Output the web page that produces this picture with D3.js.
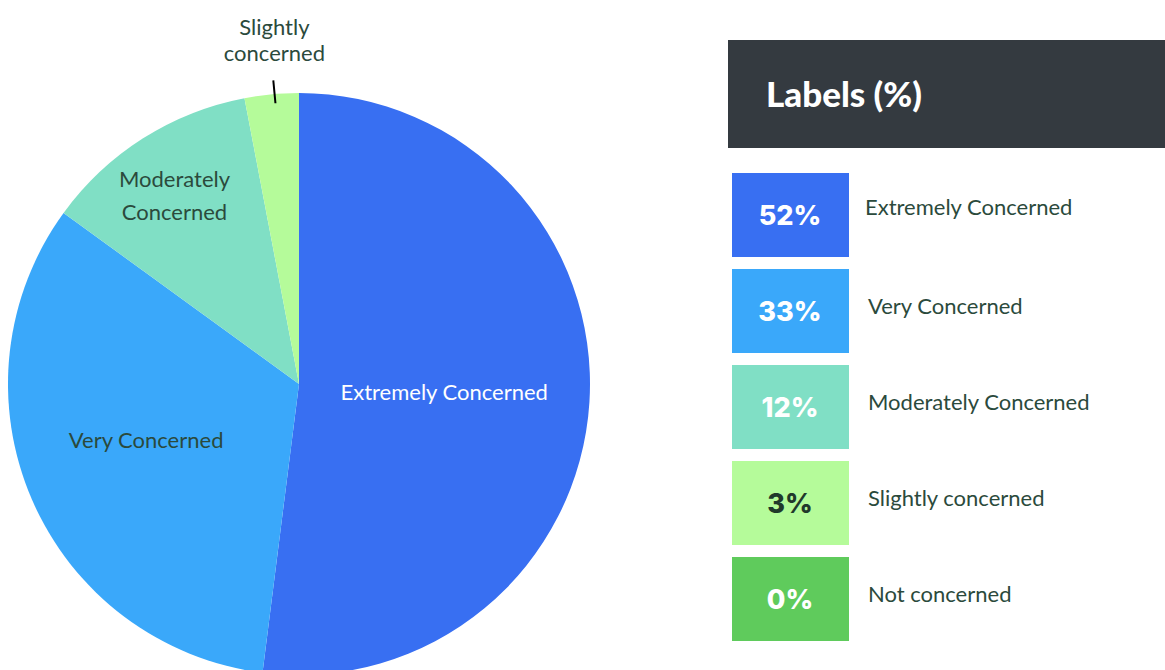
<!DOCTYPE html>
<html lang="en">
<head>
<meta charset="UTF-8">
<title>Level of concern</title>
<script src="https://d3js.org/d3.v7.min.js"></script>
<style>
  body { margin: 0; background: #fff; }
  svg { display: block; }
</style>
</head>
<body>
<div id="chart"></div>
<script>
// data
var categories = ["Extremely Concerned", "Very Concerned", "Moderately Concerned", "Slightly concerned", "Not concerned"];
var pieLabels = [["Extremely Concerned"], ["Very Concerned"], ["Moderately", "Concerned"], ["Slightly", "concerned"], [""]];
var values = [52, 33, 12, 3, 0];
var colors = ["#386ff2", "#3aa8fa", "#80dfc5", "#b5fb9a", "#5fcb5c"];
var numColors = ["#ffffff", "#ffffff", "#ffffff", "#21392b", "#ffffff"];

var W = 1165, H = 670;
var svg = d3.select("#chart").append("svg")
    .attr("width", W)
    .attr("height", H);

var cx = 299, cy = 384, R = 291;
var labelFont = "Lato, 'Open Sans', sans-serif";

var pie = d3.pie().sort(null).value(function(d) { return d; });
var arcs = pie(values);
var arc = d3.arc().innerRadius(0).outerRadius(R);

var g = svg.append("g").attr("transform", "translate(" + cx + "," + cy + ")");

g.selectAll("path")
  .data(arcs)
  .enter()
  .append("path")
    .attr("d", arc)
    .attr("fill", function(d, i) { return colors[i]; });

// labels inside the slices, small slice gets an outside label
// radius factor, small nudge and line height per label
var labelR = [0.5, 0.55, 0.76, 1.19, 0];
var nudge = [[0, 0], [-6, -6], [-6, 0], [8, 2], [0, 0]];
var lineH = [1.2, 1.2, 1.5, 1.2, 1.2];
g.selectAll("text.slice")
  .data(arcs)
  .enter()
  .filter(function(d) { return d.value > 0; })
  .append("text")
    .attr("class", "slice")
    .attr("transform", function(d, i) {
      var a = (d.startAngle + d.endAngle) / 2;
      var r = R * labelR[d.index];
      var n = nudge[d.index];
      return "translate(" + (Math.sin(a) * r + n[0]) + "," + (-Math.cos(a) * r + n[1]) + ")";
    })
    .attr("text-anchor", "middle")
    .style("font-family", labelFont)
    .style("font-size", "22px")
    .attr("fill", function(d) { return d.index == 0 ? "#ffffff" : "#2b4a3c"; })
    .each(function(d) {
      var lines = pieLabels[d.index];
      var lh = lineH[d.index];
      var t = d3.select(this);
      lines.forEach(function(l, k) {
        t.append("tspan")
          .attr("x", 0)
          .attr("dy", k == 0 ? (0.3 - (lines.length - 1) * lh / 2) + "em" : lh + "em")
          .text(l);
      });
    });

// leader line for the slightly concerned slice
var small = arcs[3];
var ma = (small.startAngle + small.endAngle) / 2;
g.append("line")
    .attr("x1", Math.sin(ma) * (R - 9) + 3)
    .attr("y1", -Math.cos(ma) * (R - 9))
    .attr("x2", Math.sin(ma) * (R + 14) + 3)
    .attr("y2", -Math.cos(ma) * (R + 14))
    .attr("stroke", "#000")
    .attr("stroke-width", 2);

// legend
var lg = svg.append("g");
lg.append("rect")
    .attr("x", 728).attr("y", 40)
    .attr("width", W - 728).attr("height", 108)
    .attr("fill", "#343a40");
lg.append("text")
    .attr("x", 766).attr("y", 107)
    .attr("fill", "#fff")
    .style("font-family", labelFont)
    .style("font-weight", "900")
    .style("font-size", "35px")
    .text("Labels (%)");

var rowY = d3.scaleBand()
    .domain(categories)
    .range([173, 173 + 96 * categories.length - 12])
    .paddingInner(12 / 96);

var rows = lg.selectAll("g.row")
  .data(categories)
  .enter()
  .append("g")
    .attr("class", "row")
    .attr("transform", function(d) { return "translate(0," + rowY(d) + ")"; });

rows.append("rect")
    .attr("x", 732)
    .attr("width", 117)
    .attr("height", rowY.bandwidth())
    .attr("fill", function(d, i) { return colors[i]; });

rows.append("text")
    .attr("x", 790)
    .attr("y", rowY.bandwidth() / 2 + 10)
    .attr("text-anchor", "middle")
    .attr("fill", function(d, i) { return numColors[i]; })
    .style("font-family", "Inter, 'Open Sans', sans-serif")
    .style("font-weight", "800")
    .style("font-size", "27px")
    .text(function(d, i) { return values[i] + "%"; });

rows.append("text")
    .attr("x", function(d, i) { return i == 0 ? 865 : 868; })
    .attr("y", function(d, i) { return rowY.bandwidth() / 2 - 5 + (i == 0 ? -3 : 0); })
    .attr("dy", "0.35em")
    .attr("fill", "#2b4a3c")
    .style("font-family", labelFont)
    .style("font-size", "22px")
    .text(function(d) { return d; });
</script>
</body>
</html>
